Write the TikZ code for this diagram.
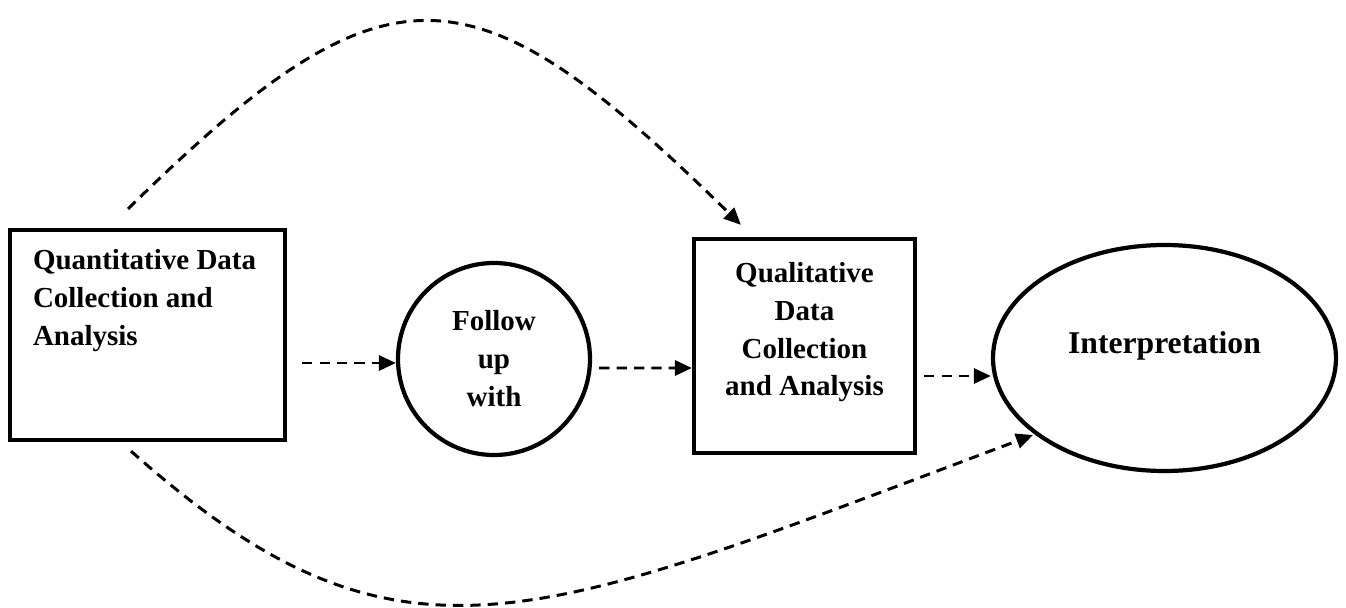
\documentclass[tikz,border=0pt]{standalone}
\usepackage{fontspec}
\setmainfont{Liberation Serif}
\usetikzlibrary{arrows.meta,shapes.geometric}

\begin{document}
\begin{tikzpicture}[
    >={Triangle[length=0.34cm,width=0.3cm]},
    font=\bfseries\fontsize{16.5pt}{21.6pt}\selectfont,
    box/.style={draw, line width=2.4pt, inner xsep=0.46cm, inner ysep=0.38cm},
    conn/.style={->, line width=1.7pt, dash pattern=on 5.9pt off 4pt}
]
    \useasboundingbox (0,0) rectangle (26.92,12.14);

    % Quantitative box (text at top left)
    \node[box] (quant) at (2.95,5.44)
        {\parbox[c][3.44cm][t]{4.58cm}{\raggedright Quantitative Data\\Collection and\\Analysis}};

    % Follow up circle
    \node[draw, circle, line width=2.4pt, minimum size=3.84cm, inner sep=0pt, align=center]
        (follow) at (9.88,4.96) {Follow\\up\\with};

    % Qualitative box
    \node[box, inner sep=0.46cm] (qual) at (16.09,5.22)
        {\parbox[c][3.36cm][t]{3.5cm}{\centering Qualitative\\Data\\Collection\\and Analysis}};

    % Interpretation ellipse
    \node[draw, ellipse, line width=2.4pt, minimum width=6.86cm, minimum height=4.52cm,
        inner sep=0pt, text depth=0.63cm, font=\bfseries\fontsize{18pt}{22pt}\selectfont]
        (interp) at (23.29,4.98) {Interpretation};

    % Straight dashed arrows
    \draw[conn] ([shift={(0.3,-0.56)}]quant.east) -- ([yshift=-0.08cm]follow.west);
    \draw[conn] ([shift={(0.14,-0.18)}]follow.east) -- ([yshift=-0.44cm]qual.west);
    \draw[conn] ([shift={(0.14,-0.6)}]qual.east) -- ([yshift=-0.36cm]interp.west);

    % Curved dashed arrows
    \draw[conn] ([shift={(-0.39,0.38)}]quant.north)
        .. controls +(5.2,5.1) and +(-5.4,5.3) .. ([shift={(0.98,0.24)}]qual.north west);
    \draw[conn] ([shift={(-0.33,-0.18)}]quant.south)
        .. controls +(5.4,-4.8) and +(-10,-3.75) .. ([shift={(-2.63,-1.54)}]interp.center);

\end{tikzpicture}
\end{document}
